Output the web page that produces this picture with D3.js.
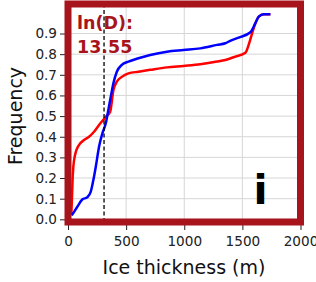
<!DOCTYPE html>
<html><head><meta charset="utf-8">
<script src="https://cdn.jsdelivr.net/npm/d3@7"></script>
<style>body{margin:0;background:#fff}svg{display:block}</style>
</head><body>
<script>
const xTicks = [0, 500, 1000, 1500, 2000];
const yTicks = [0.0, 0.1, 0.2, 0.3, 0.4, 0.5, 0.6, 0.7, 0.8, 0.9];
const redX = [28,34,40,46,60,89,138,181,224,267,305,330,362,391,420,463,520,606,707,851,994,1138,1282,1353,1440,1526,1554,1583,1612,1641,1684,1741];
const redY = [0.02,0.1,0.2,0.255,0.31,0.355,0.384,0.40,0.424,0.457,0.483,0.5,0.52,0.627,0.667,0.69,0.707,0.715,0.724,0.736,0.743,0.751,0.764,0.772,0.788,0.807,0.845,0.9,0.95,0.982,0.993,0.993];
const blueX = [30,37,80,123,166,196,218,239,267,296,325,347,370,391,420,463,520,606,707,851,994,1138,1282,1353,1400,1468,1569,1612,1641,1684,1741];
const blueY = [0.02,0.024,0.061,0.096,0.107,0.134,0.19,0.255,0.352,0.417,0.465,0.53,0.6,0.66,0.715,0.748,0.764,0.78,0.796,0.812,0.82,0.828,0.845,0.853,0.866,0.88,0.906,0.95,0.982,0.993,0.993];
const dashX = 310;
const annotLines = ["ln(D):", "13.55"];
const panelLabel = "i";

const W = 316, H = 282;
const svg = d3.select("body").append("svg").attr("width", W).attr("height", H);
const x = d3.scaleLinear().domain([0, 2000]).range([68, 300.5]);
const y = d3.scaleLinear().domain([-0.013, 1.043]).range([222, 4]);
const frameCol = "#a8141c";

// grid
const g = svg.append("g");
g.selectAll("line.vg").data(xTicks).join("line")
  .attr("x1", d => x(d)).attr("x2", d => x(d)).attr("y1", y.range()[0]).attr("y2", y.range()[1])
  .attr("stroke", "#d6d6d6").attr("stroke-width", 1);
g.selectAll("line.hg").data(yTicks).join("line")
  .attr("y1", d => y(d)).attr("y2", d => y(d)).attr("x1", x.range()[0]).attr("x2", x.range()[1])
  .attr("stroke", "#d6d6d6").attr("stroke-width", 1);

// axes
const xAxis = d3.axisBottom(x).tickValues(xTicks).tickSize(8).tickPadding(6).tickFormat(d3.format("d"));
const yAxis = d3.axisLeft(y).tickValues(yTicks).tickSize(8).tickPadding(3).tickFormat(d3.format(".1f"));
const ax = svg.append("g").attr("transform", `translate(0,${y.range()[0]})`).call(xAxis);
const ay = svg.append("g").attr("transform", `translate(${x.range()[0]},0)`).call(yAxis);
[ax, ay].forEach(a => {
  a.select(".domain").remove();
  a.selectAll(".tick line").attr("stroke", "#222").attr("stroke-width", 1);
  a.selectAll(".tick text").attr("fill", "#222").style("font-family", "DejaVu Sans").style("font-size", "13.6px");
});

// lines
const line = d3.line().x(d => x(d[0])).y(d => y(d[1])).curve(d3.curveMonotoneX);
const red = redX.map((v, i) => [v, redY[i]]);
const blue = blueX.map((v, i) => [v, blueY[i]]);
svg.append("path").attr("d", line(red)).attr("fill", "none").attr("stroke", "#ff0000").attr("stroke-width", 2.5).attr("stroke-linejoin", "round");
svg.append("path").attr("d", line(blue)).attr("fill", "none").attr("stroke", "#0000ff").attr("stroke-width", 2.5).attr("stroke-linejoin", "round");

// dashed line
svg.append("line").attr("x1", x(dashX)).attr("x2", x(dashX)).attr("y1", y.range()[0]).attr("y2", y.range()[1])
  .attr("stroke", "#000").attr("stroke-width", 1.3).attr("stroke-dasharray", "4,2.5");

// frame
svg.append("rect").attr("x", x.range()[0]).attr("y", y.range()[1])
  .attr("width", x.range()[1] - x.range()[0]).attr("height", y.range()[0] - y.range()[1])
  .attr("fill", "none").attr("stroke", frameCol).attr("stroke-width", 7);

// annotation
const t = svg.append("text").attr("x", 77).attr("y", 29).attr("fill", frameCol)
  .style("font-family", "DejaVu Sans").style("font-weight", "bold").style("font-size", "17.5px");
annotLines.forEach((s, i) => t.append("tspan").attr("x", 77).attr("dy", i ? 24 : 0).text(s));

svg.append("text").attr("x", 260.5).attr("y", 204).attr("text-anchor", "middle")
  .style("font-family", "DejaVu Sans").style("font-weight", "bold").style("font-size", "41px").text(panelLabel);

// axis labels
svg.append("text").attr("x", 184).attr("y", 274).attr("text-anchor", "middle")
  .style("font-family", "DejaVu Sans").style("font-size", "19px").attr("fill", "#111").text("Ice thickness (m)");
svg.append("text").attr("transform", "translate(22,116) rotate(-90)").attr("text-anchor", "middle")
  .style("font-family", "DejaVu Sans").style("font-size", "19px").attr("fill", "#111").text("Frequency");
</script>
</body></html>
